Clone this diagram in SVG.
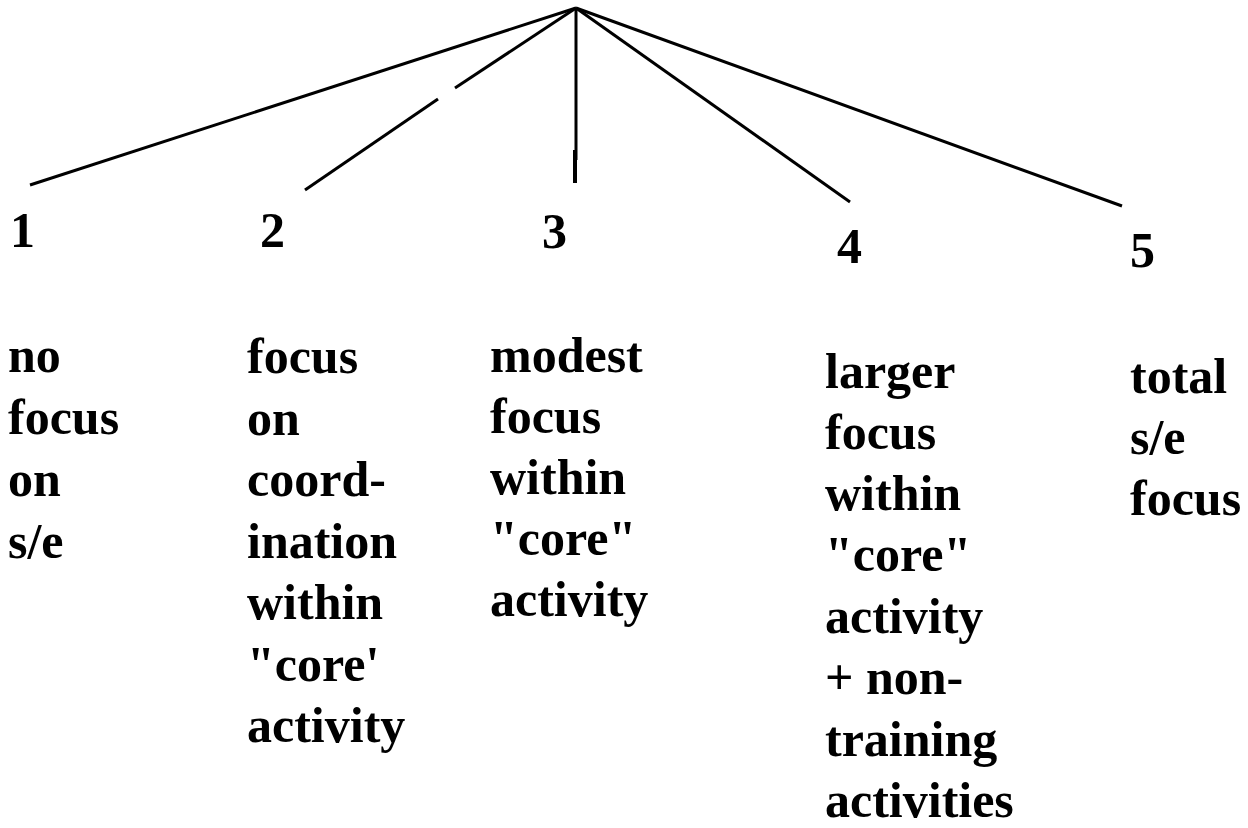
<svg xmlns="http://www.w3.org/2000/svg" width="1248" height="828" viewBox="0 0 1248 828">
<style>
.t{font-family:"Liberation Serif","Times New Roman",serif;font-weight:bold;font-size:50px;fill:#000}
.c{stroke:#000;stroke-width:3;fill:none;stroke-linecap:butt}
</style>
<rect width="1248" height="828" fill="#fff"/>
<g id="connectors">
<line class="c" x1="576" y1="8" x2="30" y2="185"/>
<line class="c" x1="576" y1="8" x2="455" y2="88"/>
<line class="c" x1="438" y1="99" x2="305" y2="190"/>
<line class="c" x1="576" y1="8" x2="576" y2="160"/>
<line class="c" x1="575" y1="150" x2="575" y2="183" style="stroke-width:4"/>
<line class="c" x1="576" y1="8" x2="850" y2="202"/>
<line class="c" x1="576" y1="8" x2="1122" y2="206"/>
</g>
<g id="node1">
<text class="t" x="10" y="247">1</text>
<text class="t" x="8" y="372">no</text>
<text class="t" x="8" y="434">focus</text>
<text class="t" x="8" y="496">on</text>
<text class="t" x="8" y="558">s/e</text>
</g>
<g id="node2">
<text class="t" x="260" y="247">2</text>
<text class="t" x="247" y="373">focus</text>
<text class="t" x="247" y="434.5">on</text>
<text class="t" x="247" y="496">coord-</text>
<text class="t" x="247" y="557.5">ination</text>
<text class="t" x="247" y="619">within</text>
<text class="t" x="247" y="680.5">"core'</text>
<text class="t" x="247" y="742">activity</text>
</g>
<g id="node3">
<text class="t" x="542" y="248">3</text>
<text class="t" x="490" y="372">modest</text>
<text class="t" x="490" y="433">focus</text>
<text class="t" x="490" y="494">within</text>
<text class="t" x="490" y="555">"core"</text>
<text class="t" x="490" y="616">activity</text>
</g>
<g id="node4">
<text class="t" x="837" y="263">4</text>
<text class="t" x="825" y="388">larger</text>
<text class="t" x="825" y="449">focus</text>
<text class="t" x="825" y="510">within</text>
<text class="t" x="825" y="571">"core"</text>
<text class="t" x="825" y="633">activity</text>
<text class="t" x="825" y="694">+ non-</text>
<text class="t" x="825" y="756">training</text>
<text class="t" x="825" y="817">activities</text>
</g>
<g id="node5">
<text class="t" x="1130" y="267">5</text>
<text class="t" x="1130" y="393">total</text>
<text class="t" x="1130" y="454">s/e</text>
<text class="t" x="1130" y="515">focus</text>
</g>
</svg>
